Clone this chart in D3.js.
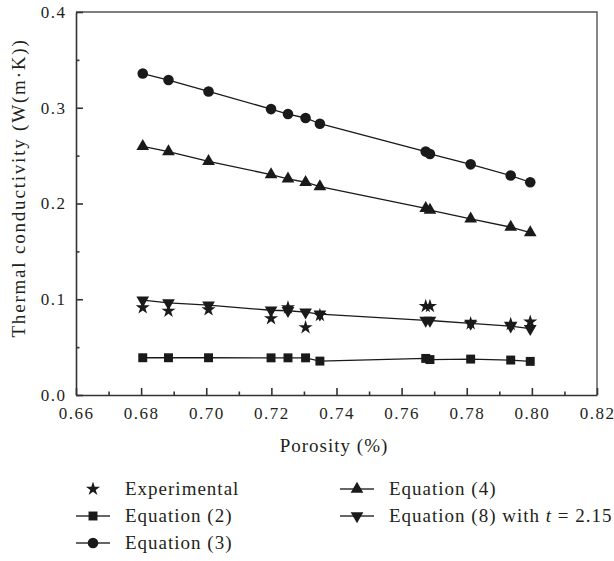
<!DOCTYPE html>
<html>
<head>
<meta charset="utf-8">
<script src="https://cdn.jsdelivr.net/npm/d3@7"></script>
<style>
  html, body { margin: 0; padding: 0; background: #fff; }
  svg { display: block; }
</style>
</head>
<body>
<svg id="chart" width="614" height="561"></svg>
<script>
// ---- data ----
const porosity     = [0.6805, 0.6884, 0.7007, 0.7199, 0.7251, 0.7305, 0.7349, 0.7674, 0.7687, 0.7812, 0.7935, 0.7995];
const experimental = [0.0913, 0.0878, 0.0892, 0.0799, 0.0913, 0.0705, 0.0833, 0.0927, 0.0927, 0.0747, 0.0740, 0.0764];
const equation2    = [0.0389, 0.0389, 0.0389, 0.0388, 0.0388, 0.0388, 0.0354, 0.0382, 0.0370, 0.0375, 0.0365, 0.0351];
const equation3    = [0.3357, 0.3289, 0.3170, 0.2986, 0.2934, 0.2893, 0.2833, 0.2542, 0.2517, 0.2409, 0.2292, 0.2222];
const equation4    = [0.2597, 0.2542, 0.2440, 0.2302, 0.2257, 0.2222, 0.2177, 0.1950, 0.1930, 0.1840, 0.1753, 0.1695];
const equation8    = [0.0990, 0.0962, 0.0938, 0.0885, 0.0880, 0.0865, 0.0845, 0.0780, 0.0778, 0.0747, 0.0719, 0.0694];
const xTicks = [0.66, 0.68, 0.70, 0.72, 0.74, 0.76, 0.78, 0.80, 0.82];
const xMinorTicks = [0.67, 0.69, 0.71, 0.73, 0.75, 0.77, 0.79, 0.81];
const yTicks = [0.0, 0.1, 0.2, 0.3, 0.4];
const yMinorTicks = [0.05, 0.15, 0.25, 0.35];
const xLabel = "Porosity (%)";
const yLabel = "Thermal conductivity (W(m\u00B7K))";

const FONT = "'Liberation Serif', serif";

const svg = d3.select("#chart");
const L = 76, R = 597, T = 12, B = 395;
const x = d3.scaleLinear().domain([0.66, 0.82]).range([L, R]);
const y = d3.scaleLinear().domain([0, 0.4]).range([B, T]);
const ink = "#1a1a1a";
const axisColor = "#333";

// frame (top + right)
svg.append("path")
  .attr("d", `M${L},${T}H${R}V${B}`)
  .attr("fill", "none").attr("stroke", "#555").attr("stroke-width", 1.4);

// x axis
const gx = svg.append("g").attr("transform", `translate(0,${B})`)
  .call(d3.axisBottom(x).tickValues(xTicks).tickFormat(d3.format(".2f"))
    .tickSizeInner(-7).tickSizeOuter(0).tickPadding(12));
const gxm = svg.append("g").attr("transform", `translate(0,${B})`)
  .call(d3.axisBottom(x).tickValues(xMinorTicks).tickFormat("")
    .tickSizeInner(-3.5).tickSizeOuter(0));
gxm.select(".domain").remove();

// y axis
const gy = svg.append("g").attr("transform", `translate(${L},0)`)
  .call(d3.axisLeft(y).tickValues(yTicks).tickFormat(d3.format(".1f"))
    .tickSizeInner(-7).tickSizeOuter(0).tickPadding(9.5));
const gym = svg.append("g").attr("transform", `translate(${L},0)`)
  .call(d3.axisLeft(y).tickValues(yMinorTicks).tickFormat("")
    .tickSizeInner(-3.5).tickSizeOuter(0));
gym.select(".domain").remove();

[gx, gxm, gy, gym].forEach(g => {
  g.attr("font-family", null);
  g.selectAll("path, line").attr("stroke", axisColor).attr("stroke-width", 1.6);
  g.selectAll("text").style("font-family", FONT)
    .attr("font-size", 17).attr("letter-spacing", 1.5).attr("fill", "#231f20");
});

// axis titles
svg.append("text").attr("x", 334).attr("y", 452).attr("text-anchor", "middle")
  .style("font-family", FONT).attr("fill", "#231f20")
  .attr("font-size", 19).attr("letter-spacing", 1).text(xLabel);
svg.append("text").attr("transform", "translate(25,188) rotate(-90)")
  .style("font-family", FONT).attr("fill", "#231f20")
  .attr("text-anchor", "middle").attr("font-size", 19).attr("letter-spacing", 1.8)
  .text(yLabel);

// symbols
const sym = {
  star:   d3.symbol().type(d3.symbolStar).size(62)(),
  square: d3.symbol().type(d3.symbolSquare).size(80)(),
  circle: d3.symbol().type(d3.symbolCircle).size(88)(),
  tri:    d3.symbol().type(d3.symbolTriangle).size(70)()
};

const series = [
  { name: "eq2", values: equation2, symbol: sym.square, rot: 0, line: true },
  { name: "eq3", values: equation3, symbol: sym.circle, rot: 0, line: true },
  { name: "eq4", values: equation4, symbol: sym.tri, rot: 0, line: true },
  { name: "eq8", values: equation8, symbol: sym.tri, rot: 180, line: true },
  { name: "exp", values: experimental, symbol: sym.star, rot: 0, line: false }
];

const lineGen = d3.line().x(d => x(d[0])).y(d => y(d[1]));

series.forEach(s => {
  const pts = porosity.map((p, i) => [p, s.values[i]]);
  if (s.line) {
    svg.append("path").datum(pts).attr("d", lineGen)
      .attr("fill", "none").attr("stroke", ink).attr("stroke-width", 1.3);
  }
  svg.append("g").selectAll("path").data(pts).join("path")
    .attr("d", s.symbol)
    .attr("transform", d => `translate(${x(d[0])},${y(d[1])}) rotate(${s.rot})`)
    .attr("fill", ink);
});

// legend
const legendItems = [
  { label: ["Experimental"], symbol: sym.star, rot: 0, line: false, lx: 93, ly: 489 },
  { label: ["Equation (2)"], symbol: sym.square, rot: 0, line: true, lx: 93, ly: 516 },
  { label: ["Equation (3)"], symbol: sym.circle, rot: 0, line: true, lx: 93, ly: 543 },
  { label: ["Equation (4)"], symbol: sym.tri, rot: 0, line: true, lx: 357, ly: 489 },
  { label: ["Equation (8) with ", "t", " = 2.15"], symbol: sym.tri, rot: 180, line: true, lx: 357, ly: 516 }
];
legendItems.forEach(it => {
  const g = svg.append("g");
  if (it.line) {
    g.append("line").attr("x1", it.lx - 17).attr("x2", it.lx + 17)
      .attr("y1", it.ly).attr("y2", it.ly).attr("stroke", "#333").attr("stroke-width", 1.5);
  }
  g.append("path").attr("d", it.symbol)
    .attr("transform", `translate(${it.lx},${it.ly}) rotate(${it.rot})`).attr("fill", ink);
  const t = g.append("text").attr("x", it.lx + 32).attr("y", it.ly + 6)
    .style("font-family", FONT).attr("fill", "#231f20")
    .attr("font-size", 19).attr("letter-spacing", 1);
  it.label.forEach((part, i) => {
    const ts = t.append("tspan").text(part);
    if (i === 1) ts.attr("font-style", "italic");
  });
});
</script>
</body>
</html>
